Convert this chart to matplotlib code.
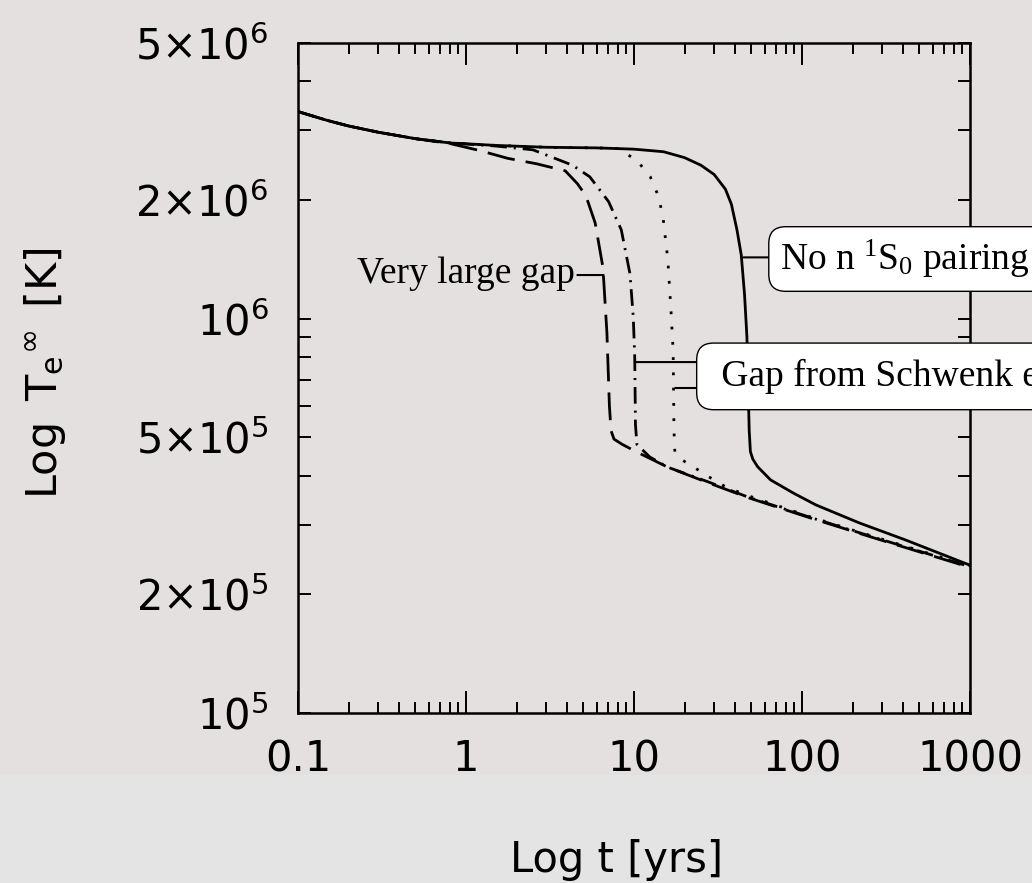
import matplotlib
matplotlib.use('Agg')
import matplotlib.pyplot as plt
from matplotlib.ticker import FixedLocator, FixedFormatter, NullFormatter, LogLocator
from matplotlib.patches import Rectangle

plt.rcParams['font.family'] = ['DejaVu Sans']
plt.rcParams['mathtext.fontset'] = 'custom'
plt.rcParams['mathtext.rm'] = 'Liberation Serif'
plt.rcParams['mathtext.it'] = 'Liberation Serif:italic'
plt.rcParams['mathtext.sf'] = 'DejaVu Sans'
plt.rcParams['lines.scale_dashes'] = False

# Cooling curves (t in yrs, T in K)
t_nopair = [0.1, 0.15, 0.2, 0.3, 0.5, 0.8, 1.5, 3, 6, 10, 15, 20, 25, 30, 35, 38, 41,
            43.5, 45.5, 47, 47.9, 48.5, 49.3, 51, 54.5, 65, 89, 121, 221, 410, 1000]
T_nopair = [3.35e6, 3.18e6, 3.08e6, 2.97e6, 2.86e6, 2.79e6, 2.75e6, 2.72e6, 2.71e6,
            2.69e6, 2.65e6, 2.56e6, 2.45e6, 2.32e6, 2.13e6, 1.95e6, 1.68e6, 1.45e6,
            1.15e6, 9.0e5, 6.5e5, 5.2e5, 4.6e5, 4.4e5, 4.21e5, 3.9e5, 3.61e5, 3.37e5,
            3.03e5, 2.75e5, 2.37e5]

t_large = [0.1, 0.15, 0.2, 0.3, 0.5, 0.8, 1.2, 1.77, 2.63, 3.9, 4.6, 5.17, 5.87, 6.53,
           6.9, 7.14, 7.3, 7.6, 8.5, 10.4, 15.9, 27.9, 48.4, 113, 268, 1000]
T_large = [3.35e6, 3.18e6, 3.08e6, 2.97e6, 2.86e6, 2.78e6, 2.67e6, 2.55e6, 2.47e6,
           2.37e6, 2.2e6, 2.05e6, 1.75e6, 1.35e6, 9.2e5, 6.0e5, 5.2e5, 4.95e5, 4.8e5,
           4.59e5, 4.2e5, 3.83e5, 3.51e5, 3.12e5, 2.78e5, 2.34e5]

t_schw1 = [0.1, 0.15, 0.2, 0.3, 0.5, 0.8, 1.5, 2.5, 3.15, 4.3, 5.45, 7.06, 8.4, 9.46,
           9.9, 10.1, 10.2, 10.4, 12.4, 15.9, 27.9, 48.4, 113, 268, 1000]
T_schw1 = [3.35e6, 3.18e6, 3.08e6, 2.97e6, 2.86e6, 2.79e6, 2.74e6, 2.68e6, 2.58e6,
           2.45e6, 2.29e6, 1.98e6, 1.68e6, 1.3e6, 1.01e6, 8.0e5, 5.4e5, 4.8e5, 4.46e5,
           4.2e5, 3.85e5, 3.52e5, 3.13e5, 2.79e5, 2.35e5]

t_schw2 = [0.1, 0.15, 0.2, 0.3, 0.5, 0.8, 1.5, 3, 6, 8, 10.4, 12.5, 14.0, 14.9, 15.9,
           16.6, 17.1, 17.3, 17.5, 19, 21.8, 27.9, 35.3, 48.4, 113, 268, 1000]
T_schw2 = [3.35e6, 3.18e6, 3.08e6, 2.97e6, 2.86e6, 2.79e6, 2.75e6, 2.72e6, 2.71e6,
           2.7e6, 2.52e6, 2.29e6, 2.04e6, 1.8e6, 1.41e6, 1.05e6, 8.3e5, 5.2e5, 4.6e5,
           4.4e5, 4.25e5, 3.97e5, 3.74e5, 3.55e5, 3.14e5, 2.8e5, 2.36e5]

xticks = [0.1, 1, 10, 100, 1000]
xtick_labels = ['0.1', '1', '10', '100', '1000']
yticks = [1e5, 2e5, 5e5, 1e6, 2e6, 5e6]
ytick_labels = [r'$\mathsf{10^{5}}$', r'$\mathsf{2×10^{5}}$', r'$\mathsf{5×10^{5}}$',
                r'$\mathsf{10^{6}}$', r'$\mathsf{2×10^{6}}$', r'$\mathsf{5×10^{6}}$']
yminor = [3e5, 4e5, 6e5, 7e5, 8e5, 9e5, 3e6, 4e6]

bg = '#e5e0e0'
fig = plt.figure(figsize=(10.32, 8.83), dpi=100, facecolor=bg)
fig.patches.append(Rectangle((0, 0), 1, 108 / 883, transform=fig.transFigure,
                             facecolor='#e4e4e4', edgecolor='none', zorder=-1))
ax = fig.add_axes([298 / 1032, 1 - 713 / 883, 672 / 1032, 670 / 883])
ax.set_facecolor(bg)

lw = 2.0
ax.plot(t_nopair, T_nopair, color='black', lw=lw)
ax.plot(t_large, T_large, color='black', lw=lw, dashes=(20, 8))
ax.plot(t_schw1, T_schw1, color='black', lw=lw, dashes=(12, 5, 1.5, 5))
ax.plot(t_schw2, T_schw2, color='black', lw=lw, dashes=(2, 9))

ax.set_xscale('log')
ax.set_yscale('log')
ax.set_xlim(0.1, 1000)
ax.set_ylim(1e5, 5e6)

ax.xaxis.set_major_locator(FixedLocator(xticks))
ax.xaxis.set_major_formatter(FixedFormatter(xtick_labels))
ax.xaxis.set_minor_locator(LogLocator(base=10, subs=range(2, 10), numticks=20))
ax.xaxis.set_minor_formatter(NullFormatter())
ax.yaxis.set_major_locator(FixedLocator(yticks))
ax.yaxis.set_major_formatter(FixedFormatter(ytick_labels))
ax.yaxis.set_minor_locator(FixedLocator(yminor))
ax.yaxis.set_minor_formatter(NullFormatter())

ax.tick_params(which='both', direction='in', top=True, right=True, width=1.4,
               labelsize=30, colors='black')
ax.tick_params(axis='x', which='major', length=16, pad=18)
ax.tick_params(axis='x', which='minor', length=8)
ax.tick_params(axis='y', which='both', length=9, pad=21)
for s in ax.spines.values():
    s.set_linewidth(1.8)

fig.text(45 / 1032, 1 - 373 / 883, r'$\mathsf{Log\ \ T_{e}{}^{∞}\ \ [K]}$', rotation=90,
         ha='center', va='center', fontsize=31)
fig.text(617 / 1032, 1 - 872 / 883, 'Log t [yrs]', ha='center', va='baseline',
         fontsize=30)

serif = 'Liberation Serif'
arrow = dict(arrowstyle='-', lw=1.5, color='black', shrinkA=0, shrinkB=0)

ax.text(4.46, 1.231e6, 'Very large gap', ha='right', va='baseline',
        family=serif, fontsize=27)
ax.annotate('', xy=(6.6, 1.29e6), xytext=(4.6, 1.29e6), arrowprops=arrow)

ax.text(74, 1.328e6, r'No n $^{\mathrm{1}}$S$_{\mathrm{0}}$ pairing      ', ha='left',
        va='baseline', family=serif, fontsize=27, zorder=5,
        bbox=dict(boxstyle='round,pad=0.3,rounding_size=0.45', fc='white',
                  ec='black', lw=1.0))
ax.annotate('', xy=(44.8, 1.43e6), xytext=(64, 1.43e6), arrowprops=arrow, zorder=4)

ax.text(29.3, 6.75e5, ' Gap from Schwenk et al.', ha='left', va='baseline',
        family=serif, fontsize=27, zorder=5,
        bbox=dict(boxstyle='round,pad=0.42,rounding_size=0.45', fc='white',
                  ec='black', lw=1.0))
ax.annotate('', xy=(10.3, 7.76e5), xytext=(23.7, 7.76e5), arrowprops=arrow, zorder=4)
ax.annotate('', xy=(17.6, 6.67e5), xytext=(23.7, 6.67e5), arrowprops=arrow, zorder=4)

fig.savefig('out.png', dpi=100, facecolor=fig.get_facecolor())
